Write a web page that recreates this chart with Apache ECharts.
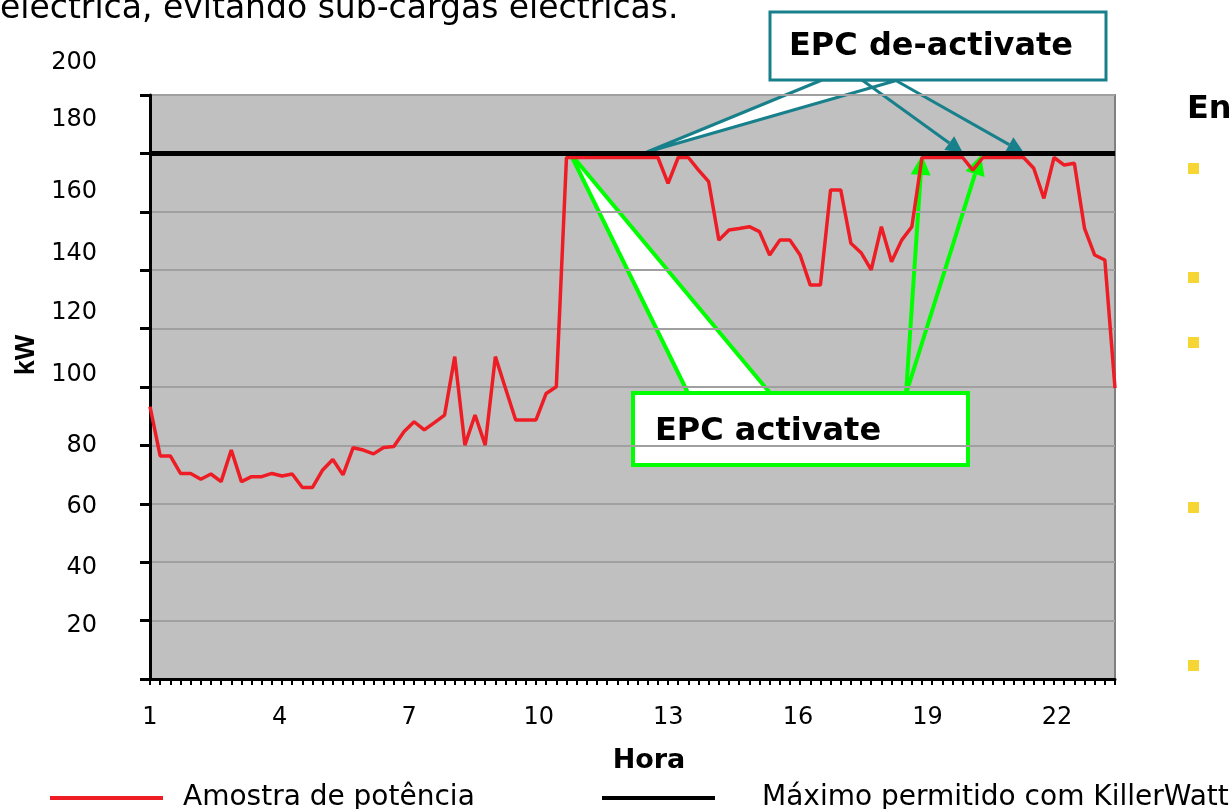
<!DOCTYPE html>
<html>
<head>
<meta charset="utf-8">
<script src="https://cdn.jsdelivr.net/npm/echarts@6/dist/echarts.min.js"></script>
<style>
  html, body { margin: 0; padding: 0; background: #fff; }
  #chart { width: 1229px; height: 809px; }
</style>
</head>
<body>
<div id="chart"></div>
<script>
// 15-minute power samples (kW)
const power = [
  93.3, 76.4, 76.4, 70.4, 70.4, 68.4, 70.2, 67.6, 78.4, 67.6,
  69.3, 69.3, 70.4, 69.5, 70.2, 65.6, 65.6, 71.6, 75.2, 69.9,
  79.2, 78.4, 77.1, 79.3, 79.6, 84.7, 88.1, 85.3, 87.8, 90.4,
  110.4, 80.1, 90.4, 80.1, 110.4, 99.5, 88.7, 88.7, 88.7, 97.8,
  100.1, 178.6, 178.6, 178.6, 178.6, 178.6, 178.6, 178.6, 178.6, 178.6,
  178.6, 169.7, 178.6, 178.6, 174.3, 170.3, 150.3, 153.8, 154.3, 154.9,
  153.2, 145.2, 150.3, 150.3, 145.2, 134.9, 134.9, 167.5, 167.5, 149.2,
  146, 140.1, 154.9, 142.9, 150.3, 154.9, 178.6, 178.6, 178.6, 178.6,
  178.6, 174.3, 178.6, 178.6, 178.6, 178.6, 178.6, 174.9, 164.6, 178.6,
  176, 176.6, 154.3, 145.2, 143.5, 99.6
]
const sampleIds = power.map((_, i) => i + 1)
const maxAllowed = 180
const hourTicks = [1, 4, 7, 10, 13, 16, 19, 22]
const kwTicks = [20, 40, 60, 80, 100, 120, 140, 160, 180, 200]
const seriesNames = ['Amostra de potência', 'Máximo permitido com KillerWatt']

const FONT = 'DejaVu Sans'
const TEAL = '#18808b'
const GREEN = '#00ff00'

// the kW labels in the source sit a little off their ticks
const labelLift = { 200: 32, 180: 34, 160: 20, 140: 16, 120: 16, 100: 12, 80: 0, 60: -3, 40: -6, 20: -5 }
const yRich = {}
kwTicks.forEach(v => {
  const d = labelLift[v] || 0
  yRich['v' + v] = {
    fontFamily: FONT, fontSize: 24, color: '#000',
    padding: d >= 0 ? [0, 0, 2 * d, 0] : [-2 * d, 0, 0, 0],
  }
})

function arrow(x1, y1, x2, y2, color, w, head) {
  const a = Math.atan2(y2 - y1, x2 - x1)
  const bx = x2 - head * Math.cos(a)
  const by = y2 - head * Math.sin(a)
  const px = Math.sin(a) * head * 0.5
  const py = -Math.cos(a) * head * 0.5
  return [
    { type: 'line', shape: { x1, y1, x2: bx, y2: by }, style: { stroke: color, lineWidth: w } },
    { type: 'polygon', shape: { points: [[x2, y2], [bx + px, by + py], [bx - px, by - py]] }, style: { fill: color } },
  ]
}

const bullets = [168, 277, 342, 507, 665].map(y => ({
  type: 'rect', shape: { x: 1188, y: y - 5, width: 11, height: 11 }, style: { fill: '#f5d634' },
}))

const legendBase = {
  top: 779, icon: 'rect', itemWidth: 113, itemHeight: 4,
  textStyle: { fontFamily: FONT, fontSize: 28, color: '#000' },
}

const chart = echarts.init(document.getElementById('chart'), null, { renderer: 'canvas' })

chart.setOption({
  animation: false,
  backgroundColor: '#fff',
  grid: {
    left: 150, right: 114, top: 95, bottom: 130,
    show: true, backgroundColor: '#c0c0c0', borderColor: '#808080', borderWidth: 2,
  },
  legend: [
    { ...legendBase, left: 45, data: [{ name: seriesNames[0], textStyle: { padding: [0, 0, 0, 15] } }] },
    { ...legendBase, left: 597, data: [{ name: seriesNames[1], textStyle: { padding: [0, 0, 0, 42] } }] },
  ],
  xAxis: [
    {
      type: 'category', data: sampleIds, boundaryGap: false, position: 'bottom',
      axisLine: { lineStyle: { color: '#000', width: 3 } },
      axisTick: { interval: 0, length: 6, lineStyle: { color: '#000', width: 2 } },
      axisLabel: { show: false },
      splitLine: { show: false },
      name: 'Hora', nameLocation: 'middle', nameGap: 68,
      nameTextStyle: { fontFamily: FONT, fontWeight: 'bold', fontSize: 27, color: '#000', padding: [0, 0, 0, 33] },
    },
    {
      type: 'value', position: 'bottom', min: 1, max: 23.34,
      axisLine: { show: false }, axisTick: { show: false }, splitLine: { show: false },
      axisLabel: { customValues: hourTicks, fontFamily: FONT, fontSize: 24, color: '#000', margin: 27 },
    },
  ],
  yAxis: {
    type: 'value', min: 0, max: 200, interval: 20,
    axisLine: { show: true, lineStyle: { color: '#000', width: 3 } },
    axisTick: { show: true, length: 10, lineStyle: { color: '#000', width: 3 } },
    splitLine: { lineStyle: { color: '#a0a0a0', width: 2 } },
    axisLabel: {
      customValues: kwTicks, margin: 53,
      formatter: v => `{v${v}|${v}}`,
      rich: yRich,
    },
    name: 'kW', nameLocation: 'middle', nameRotate: 90, nameGap: 110,
    nameTextStyle: { fontFamily: 'Liberation Sans', fontWeight: 'bold', fontSize: 27, color: '#000', padding: [0, 0, 0, 64] },
  },
  series: [
    {
      name: seriesNames[0], type: 'line', data: power, symbol: 'none',
      lineStyle: { color: '#ee1c24', width: 3.5 }, itemStyle: { color: '#ee1c24' },
    },
    {
      name: seriesNames[1], type: 'line', data: [], symbol: 'none',
      lineStyle: { color: '#000', width: 5 }, itemStyle: { color: '#000' },
      markLine: {
        silent: true, symbol: 'none', label: { show: false },
        lineStyle: { color: '#000', width: 5, type: 'solid' },
        data: [{ yAxis: maxAllowed }],
      },
    },
  ],
  graphic: [
    {
      type: 'text', left: 0, top: -7,
      style: { text: 'eléctrica, evitando sub-cargas eléctricas.', fontFamily: FONT, fontSize: 33, fill: '#000' },
    },
    {
      type: 'text', x: 1187, y: 110,
      style: { text: 'En', fontFamily: FONT, fontWeight: 'bold', fontSize: 32, fill: '#000', verticalAlign: 'middle' },
    },
    ...bullets,
    // de-activate callout
    {
      type: 'polygon', shape: { points: [[822, 80], [898, 80], [647, 152]] },
      style: { fill: '#fff', stroke: TEAL, lineWidth: 3, lineJoin: 'round' },
    },
    ...arrow(862, 80, 963, 153, TEAL, 3, 17),
    ...arrow(895, 80, 1024, 153, TEAL, 3, 17),
    {
      type: 'rect', shape: { x: 770, y: 12, width: 336, height: 68 },
      style: { fill: '#fff', stroke: TEAL, lineWidth: 3 },
    },
    {
      type: 'text', x: 931, y: 47,
      style: { text: 'EPC de-activate', fontFamily: FONT, fontWeight: 'bold', fontSize: 32, fill: '#000', align: 'center', verticalAlign: 'middle' },
    },
    // activate callout
    {
      type: 'polygon', shape: { points: [[688, 393], [770, 393], [570, 153]] },
      style: { fill: '#fff', stroke: GREEN, lineWidth: 4, lineJoin: 'round' },
    },
    ...arrow(906, 394, 922, 155, GREEN, 4, 20),
    ...arrow(906, 394, 981, 155, GREEN, 4, 20),
    {
      type: 'rect', shape: { x: 633, y: 393, width: 335, height: 72 },
      style: { fill: '#fff', stroke: GREEN, lineWidth: 4 },
    },
    {
      type: 'text', x: 768, y: 432,
      style: { text: 'EPC activate', fontFamily: FONT, fontWeight: 'bold', fontSize: 32, fill: '#000', align: 'center', verticalAlign: 'middle' },
    },
  ],
})
</script>
</body>
</html>
